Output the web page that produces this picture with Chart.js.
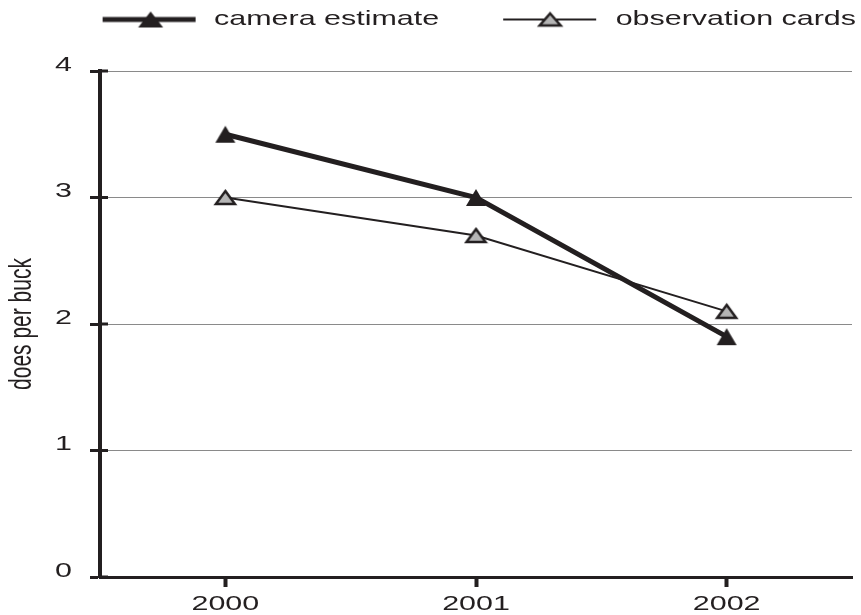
<!DOCTYPE html>
<html>
<head>
<meta charset="utf-8">
<script src="https://cdn.jsdelivr.net/npm/chart.js@4"></script>
<style>
    body { margin: 0; background: #fff; }
    canvas { display: block; }
</style>
</head>
<body>
<canvas id="deerChart" width="861" height="615"></canvas>
<script>
const years = ["2000", "2001", "2002"];
const cameraEstimate = [3.5, 3.0, 1.9];
const observationCards = [3.0, 2.7, 2.1];
const seriesLabels = ["camera estimate", "observation cards"];
const yTicks = [0, 1, 2, 3, 4];

const INK = "#231f20";
const STRETCH = 1.45; // the reference text is stretched sideways

Chart.defaults.font.family = '"Liberation Sans", Arial, sans-serif';
Chart.defaults.font.size = 21;
Chart.defaults.color = INK;

const canvas = document.getElementById("deerChart");
const ctx = canvas.getContext("2d");

// Widen every text run around its anchor point (and tell Chart.js it is wider)
const baseFillText = ctx.fillText.bind(ctx);
const baseMeasureText = ctx.measureText.bind(ctx);
ctx.fillText = function (text, x, y) {
    const m = ctx.getTransform();
    const px = m.a * x + m.c * y + m.e;
    ctx.save();
    ctx.setTransform(new DOMMatrix().translate(px, 0).scale(STRETCH, 1).translate(-px, 0).multiply(m));
    baseFillText(text, x, y);
    ctx.restore();
};
ctx.measureText = function (text) {
    const r = baseMeasureText(text);
    return {
        width: r.width * STRETCH,
        actualBoundingBoxAscent: r.actualBoundingBoxAscent,
        actualBoundingBoxDescent: r.actualBoundingBoxDescent,
        actualBoundingBoxLeft: r.actualBoundingBoxLeft * STRETCH,
        actualBoundingBoxRight: r.actualBoundingBoxRight * STRETCH,
    };
};

// Marker images (triangle bbox centred on the point)
function triangle(w, h, fill, stroke, lw) {
    const c = document.createElement("canvas");
    c.width = w + 6;
    c.height = h + 6;
    const g = c.getContext("2d");
    const cx = c.width / 2, cy = c.height / 2;
    g.beginPath();
    g.moveTo(cx, cy - h / 2);
    g.lineTo(cx + w / 2, cy + h / 2);
    g.lineTo(cx - w / 2, cy + h / 2);
    g.closePath();
    g.fillStyle = fill;
    g.fill();
    if (stroke) {
        g.lineWidth = lw;
        g.strokeStyle = stroke;
        g.lineJoin = "miter";
        g.stroke();
    }
    return c;
}

const camMarker = triangle(20, 17, INK);
const obsMarker = triangle(19, 13, "#b5b5b5", INK, 2.5);

// Legend icons: line with a (stretched) triangle
const LEGEND_W = 162;
function legendIcon(lineW, lineFrom, lineTo, triX, triW, triH, fill, stroke) {
    const c = document.createElement("canvas");
    c.width = LEGEND_W;
    c.height = 22;
    const g = c.getContext("2d");
    g.strokeStyle = INK;
    g.lineWidth = lineW;
    g.beginPath();
    g.moveTo(lineFrom, 11);
    g.lineTo(lineTo, 11);
    g.stroke();
    g.beginPath();
    g.moveTo(triX, 11 - triH / 2);
    g.lineTo(triX + triW / 2, 11 + triH / 2);
    g.lineTo(triX - triW / 2, 11 + triH / 2);
    g.closePath();
    g.fillStyle = fill;
    g.fill();
    if (stroke) {
        g.lineWidth = 2.5;
        g.strokeStyle = stroke;
        g.stroke();
    }
    return c;
}

const legendIcons = [
    legendIcon(5, 61, 154, 109, 25, 16, INK),
    legendIcon(2, 60, 153, 107, 21, 12, "#b5b5b5", INK),
];

// Make the legend block tall enough to push the plot down
const legendHeight = {
    id: "legendHeight",
    beforeInit(chart) {
        const fit = chart.legend.fit;
        chart.legend.fit = function () {
            fit.bind(chart.legend)();
            this.height = 66;
        };
    },
};

// Y ticks also poke a little into the plot
const innerTicks = {
    id: "innerTicks",
    afterDraw(chart) {
        const y = chart.scales.y;
        const c = chart.ctx;
        c.save();
        c.strokeStyle = INK;
        c.lineWidth = 3;
        y.ticks.forEach(t => {
            const py = y.getPixelForValue(t.value);
            c.beginPath();
            c.moveTo(y.right, py);
            c.lineTo(y.right + 8, py);
            c.stroke();
        });
        c.restore();
    },
};

new Chart(ctx, {
    type: "line",
    data: {
        labels: years,
        datasets: [
            {
                label: seriesLabels[0],
                data: cameraEstimate,
                borderColor: INK,
                borderWidth: 5,
                pointStyle: camMarker,
                tension: 0,
            },
            {
                label: seriesLabels[1],
                data: observationCards,
                borderColor: INK,
                borderWidth: 2,
                pointStyle: obsMarker,
                tension: 0,
            },
        ],
    },
    options: {
        responsive: false,
        animation: false,
        events: [],
        layout: { padding: { top: 5, right: 1, left: 0, bottom: 0 } },
        plugins: {
            tooltip: { enabled: false },
            legend: {
                position: "top",
                align: "end",
                labels: {
                    usePointStyle: true,
                    pointStyleWidth: LEGEND_W,
                    padding: 4,
                    color: INK,
                    font: { size: 21 },
                    generateLabels: chart => chart.data.datasets.map((ds, i) => ({
                        text: ds.label,
                        pointStyle: legendIcons[i],
                        fillStyle: "transparent",
                        strokeStyle: "transparent",
                        lineWidth: 0,
                        hidden: false,
                        datasetIndex: i,
                        fontColor: INK,
                    })),
                },
            },
        },
        scales: {
            x: {
                offset: true,
                grid: {
                    drawOnChartArea: false,
                    drawTicks: true,
                    tickLength: 10,
                    tickWidth: 4,
                    tickColor: INK,
                },
                border: { color: INK, width: 3 },
                ticks: { padding: 5, color: INK, font: { size: 21 } },
                afterFit: s => { s.height = 38; },
            },
            y: {
                min: 0,
                max: 4,
                afterBuildTicks: s => { s.ticks = yTicks.map(v => ({ value: v })); },
                grid: {
                    color: "#8a8a8a",
                    lineWidth: 1,
                    tickLength: 10,
                    tickWidth: 3,
                    tickColor: INK,
                },
                border: { color: INK, width: 4 },
                ticks: { padding: 18, labelOffset: -6, color: INK, font: { size: 21 } },
                title: {
                    display: true,
                    text: "does per buck",
                    color: INK,
                    font: { size: 21 },
                    padding: { top: 10, bottom: 0 },
                },
                afterFit: s => { s.width = 100; },
            },
        },
    },
    plugins: [legendHeight, innerTicks],
});
</script>
</body>
</html>
